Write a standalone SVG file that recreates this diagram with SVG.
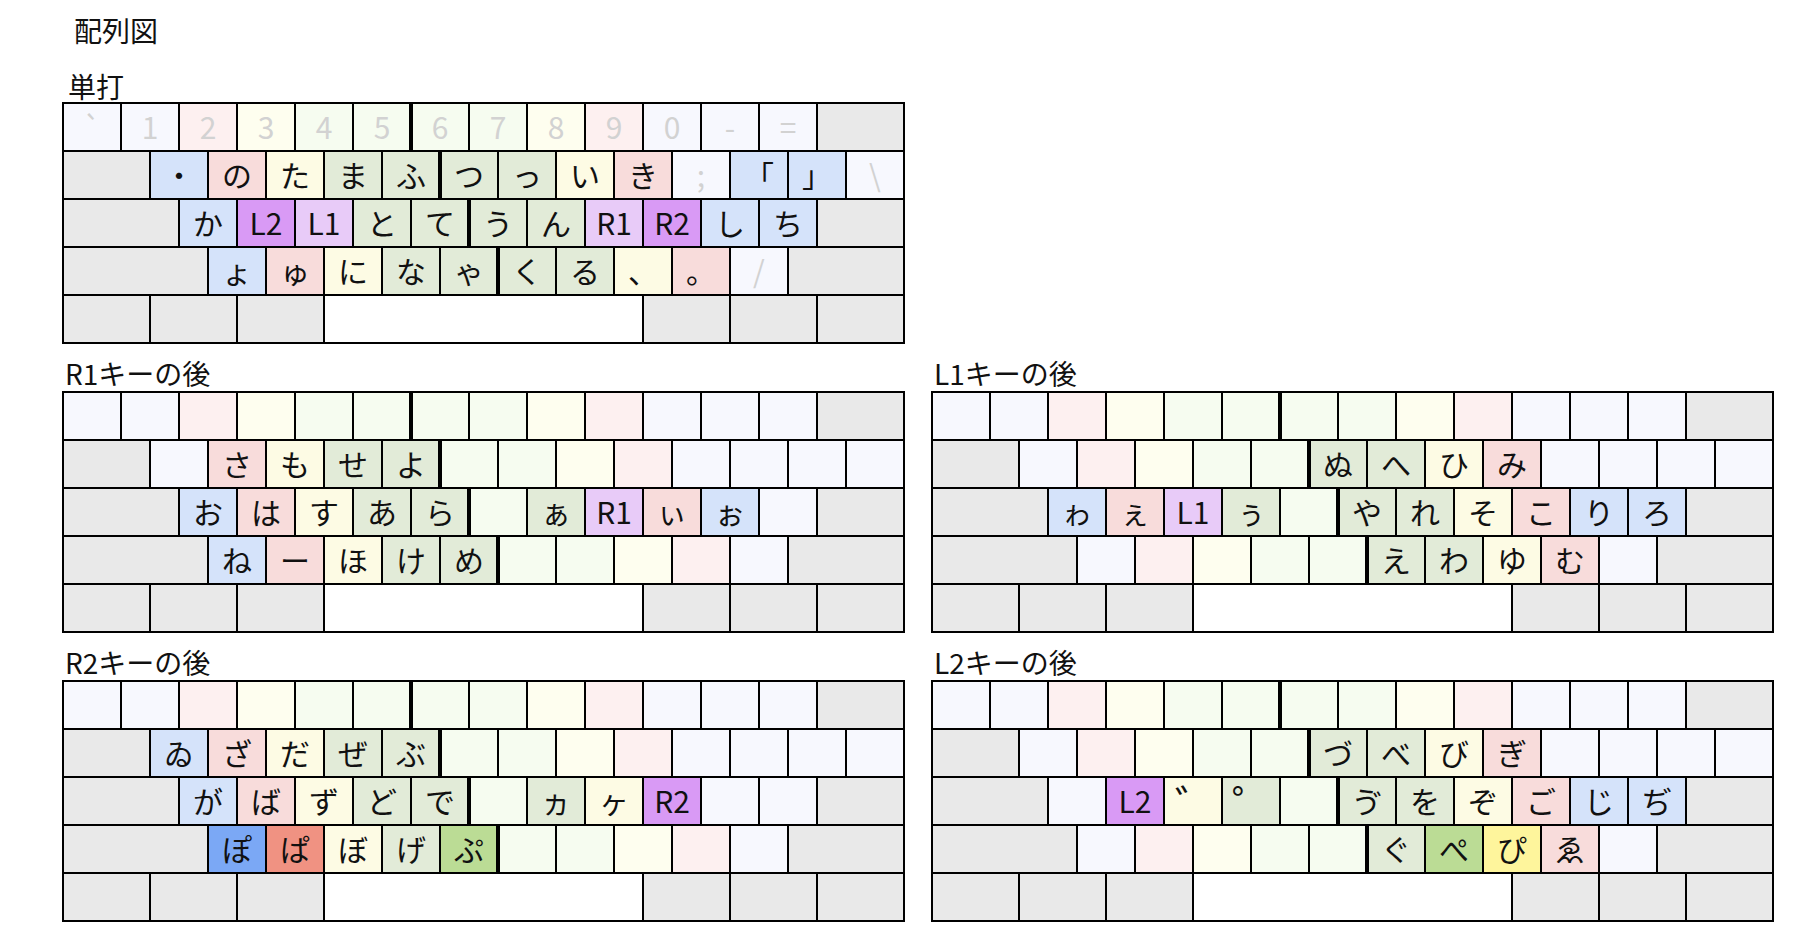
<svg xmlns="http://www.w3.org/2000/svg" xmlns:xlink="http://www.w3.org/1999/xlink" width="1800" height="938" viewBox="0 0 1800 938">
<style>
.k{stroke:#000;stroke-width:2}
.g{fill:#e9e9e9}.w{fill:#fff}
.fb{fill:#f7f8fe}.fp{fill:#fdf0f0}.fy{fill:#fefeef}.fg{fill:#f6fcf0}
.b{fill:#d5e3fa}.p{fill:#f8dcdb}.y{fill:#fdfbe4}.n{fill:#e2ebd8}
.l1{fill:#e8cbf8}.l2{fill:#d99af5}
.sb{fill:#7ba8f5}.sp{fill:#f09282}.sg{fill:#bbdc95}.sy{fill:#fef59c}
.sep{stroke:#000;stroke-width:4}
.t{font-family:"Noto Sans CJK JP","Noto Sans",sans-serif;font-size:30px;text-anchor:middle;dominant-baseline:central;fill:#111}
.m{font-family:"Noto Sans CJK JP","Noto Sans",sans-serif;font-size:30px;text-anchor:middle;dominant-baseline:central;fill:#d2d2d2}
.h{font-family:"Noto Sans CJK JP","Noto Sans",sans-serif;font-size:28px;fill:#111}
.dk{font-size:42px}
</style>
<defs>
<g id="base">
<rect class="k fb" x="0" y="0" width="58" height="48"/>
<rect class="k fb" x="58" y="0" width="58" height="48"/>
<rect class="k fp" x="116" y="0" width="58" height="48"/>
<rect class="k fy" x="174" y="0" width="58" height="48"/>
<rect class="k fg" x="232" y="0" width="58" height="48"/>
<rect class="k fg" x="290" y="0" width="58" height="48"/>
<rect class="k fg" x="348" y="0" width="58" height="48"/>
<rect class="k fg" x="406" y="0" width="58" height="48"/>
<rect class="k fy" x="464" y="0" width="58" height="48"/>
<rect class="k fp" x="522" y="0" width="58" height="48"/>
<rect class="k fb" x="580" y="0" width="58" height="48"/>
<rect class="k fb" x="638" y="0" width="58" height="48"/>
<rect class="k fb" x="696" y="0" width="58" height="48"/>
<rect class="k g" x="754" y="0" width="87" height="48"/>
<rect class="k g" x="0" y="48" width="87" height="48"/>
<rect class="k fb" x="87" y="48" width="58" height="48"/>
<rect class="k fp" x="145" y="48" width="58" height="48"/>
<rect class="k fy" x="203" y="48" width="58" height="48"/>
<rect class="k fg" x="261" y="48" width="58" height="48"/>
<rect class="k fg" x="319" y="48" width="58" height="48"/>
<rect class="k fg" x="377" y="48" width="58" height="48"/>
<rect class="k fg" x="435" y="48" width="58" height="48"/>
<rect class="k fy" x="493" y="48" width="58" height="48"/>
<rect class="k fp" x="551" y="48" width="58" height="48"/>
<rect class="k fb" x="609" y="48" width="58" height="48"/>
<rect class="k fb" x="667" y="48" width="58" height="48"/>
<rect class="k fb" x="725" y="48" width="58" height="48"/>
<rect class="k fb" x="783" y="48" width="58" height="48"/>
<rect class="k g" x="0" y="96" width="116" height="48"/>
<rect class="k fb" x="116" y="96" width="58" height="48"/>
<rect class="k fp" x="174" y="96" width="58" height="48"/>
<rect class="k fy" x="232" y="96" width="58" height="48"/>
<rect class="k fg" x="290" y="96" width="58" height="48"/>
<rect class="k fg" x="348" y="96" width="58" height="48"/>
<rect class="k fg" x="406" y="96" width="58" height="48"/>
<rect class="k fg" x="464" y="96" width="58" height="48"/>
<rect class="k fy" x="522" y="96" width="58" height="48"/>
<rect class="k fp" x="580" y="96" width="58" height="48"/>
<rect class="k fb" x="638" y="96" width="58" height="48"/>
<rect class="k fb" x="696" y="96" width="58" height="48"/>
<rect class="k g" x="754" y="96" width="87" height="48"/>
<rect class="k g" x="0" y="144" width="145" height="48"/>
<rect class="k fb" x="145" y="144" width="58" height="48"/>
<rect class="k fp" x="203" y="144" width="58" height="48"/>
<rect class="k fy" x="261" y="144" width="58" height="48"/>
<rect class="k fg" x="319" y="144" width="58" height="48"/>
<rect class="k fg" x="377" y="144" width="58" height="48"/>
<rect class="k fg" x="435" y="144" width="58" height="48"/>
<rect class="k fg" x="493" y="144" width="58" height="48"/>
<rect class="k fy" x="551" y="144" width="58" height="48"/>
<rect class="k fp" x="609" y="144" width="58" height="48"/>
<rect class="k fb" x="667" y="144" width="58" height="48"/>
<rect class="k g" x="725" y="144" width="116" height="48"/>
<rect class="k g" x="0" y="192" width="87" height="48"/>
<rect class="k g" x="87" y="192" width="87" height="48"/>
<rect class="k g" x="174" y="192" width="87" height="48"/>
<rect class="k w" x="261" y="192" width="319" height="48"/>
<rect class="k g" x="580" y="192" width="87" height="48"/>
<rect class="k g" x="667" y="192" width="87" height="48"/>
<rect class="k g" x="754" y="192" width="87" height="48"/>
</g>
<g id="seps">
<line class="sep" x1="348" y1="0" x2="348" y2="48"/>
<line class="sep" x1="377" y1="48" x2="377" y2="96"/>
<line class="sep" x1="406" y1="96" x2="406" y2="144"/>
<line class="sep" x1="435" y1="144" x2="435" y2="192"/>
</g>
</defs>

<g id="titles">
<text class="h" x="74" y="42">配列図</text>
<text class="h" x="68" y="98">単打</text>
<text class="h" x="65" y="385">R1キーの後</text>
<text class="h" x="934" y="385">L1キーの後</text>
<text class="h" x="65" y="674">R2キーの後</text>
<text class="h" x="934" y="674">L2キーの後</text>
</g>

<g id="panel-tanda" transform="translate(63,103)">
<use href="#base"/>
<g class="m">
<text x="29" y="23">`</text><text x="87" y="23">1</text><text x="145" y="23">2</text><text x="203" y="23">3</text><text x="261" y="23">4</text><text x="319" y="23">5</text><text x="377" y="23">6</text><text x="435" y="23">7</text><text x="493" y="23">8</text><text x="551" y="23">9</text><text x="609" y="23">0</text><text x="667" y="23">-</text><text x="725" y="23">=</text>
<text x="638" y="71">;</text><text x="812" y="71">\</text><text x="696" y="167">/</text>
</g>
<rect class="k b" x="87" y="48" width="58" height="48"/>
<rect class="k p" x="145" y="48" width="58" height="48"/>
<rect class="k y" x="203" y="48" width="58" height="48"/>
<rect class="k n" x="261" y="48" width="58" height="48"/>
<rect class="k n" x="319" y="48" width="58" height="48"/>
<rect class="k n" x="377" y="48" width="58" height="48"/>
<rect class="k n" x="435" y="48" width="58" height="48"/>
<rect class="k y" x="493" y="48" width="58" height="48"/>
<rect class="k p" x="551" y="48" width="58" height="48"/>
<rect class="k b" x="667" y="48" width="58" height="48"/>
<rect class="k b" x="725" y="48" width="58" height="48"/>
<rect class="k b" x="116" y="96" width="58" height="48"/>
<rect class="k l2" x="174" y="96" width="58" height="48"/>
<rect class="k l1" x="232" y="96" width="58" height="48"/>
<rect class="k n" x="290" y="96" width="58" height="48"/>
<rect class="k n" x="348" y="96" width="58" height="48"/>
<rect class="k n" x="406" y="96" width="58" height="48"/>
<rect class="k n" x="464" y="96" width="58" height="48"/>
<rect class="k l1" x="522" y="96" width="58" height="48"/>
<rect class="k l2" x="580" y="96" width="58" height="48"/>
<rect class="k b" x="638" y="96" width="58" height="48"/>
<rect class="k b" x="696" y="96" width="58" height="48"/>
<rect class="k b" x="145" y="144" width="58" height="48"/>
<rect class="k p" x="203" y="144" width="58" height="48"/>
<rect class="k y" x="261" y="144" width="58" height="48"/>
<rect class="k n" x="319" y="144" width="58" height="48"/>
<rect class="k n" x="377" y="144" width="58" height="48"/>
<rect class="k n" x="435" y="144" width="58" height="48"/>
<rect class="k n" x="493" y="144" width="58" height="48"/>
<rect class="k y" x="551" y="144" width="58" height="48"/>
<rect class="k p" x="609" y="144" width="58" height="48"/>
<use href="#seps"/>
<g class="t">
<text x="116" y="71">・</text><text x="174" y="71">の</text><text x="232" y="71">た</text><text x="290" y="71">ま</text><text x="348" y="71">ふ</text><text x="406" y="71">つ</text><text x="464" y="71">っ</text><text x="522" y="71">い</text><text x="580" y="71">き</text><text x="696" y="71">「</text><text x="754" y="71">」</text>
<text x="145" y="119">か</text><text x="203" y="119">L2</text><text x="261" y="119">L1</text><text x="319" y="119">と</text><text x="377" y="119">て</text><text x="435" y="119">う</text><text x="493" y="119">ん</text><text x="551" y="119">R1</text><text x="609" y="119">R2</text><text x="667" y="119">し</text><text x="725" y="119">ち</text>
<text x="174" y="167">ょ</text><text x="232" y="167">ゅ</text><text x="290" y="167">に</text><text x="348" y="167">な</text><text x="406" y="167">ゃ</text><text x="464" y="167">く</text><text x="522" y="167">る</text><text x="580" y="167">、</text><text x="638" y="167">。</text>
</g>
</g>

<g id="panel-r1" transform="translate(63,392)">
<use href="#base"/>
<rect class="k p" x="145" y="48" width="58" height="48"/>
<rect class="k y" x="203" y="48" width="58" height="48"/>
<rect class="k n" x="261" y="48" width="58" height="48"/>
<rect class="k n" x="319" y="48" width="58" height="48"/>
<rect class="k b" x="116" y="96" width="58" height="48"/>
<rect class="k p" x="174" y="96" width="58" height="48"/>
<rect class="k y" x="232" y="96" width="58" height="48"/>
<rect class="k n" x="290" y="96" width="58" height="48"/>
<rect class="k n" x="348" y="96" width="58" height="48"/>
<rect class="k n" x="464" y="96" width="58" height="48"/>
<rect class="k l1" x="522" y="96" width="58" height="48"/>
<rect class="k p" x="580" y="96" width="58" height="48"/>
<rect class="k b" x="638" y="96" width="58" height="48"/>
<rect class="k b" x="145" y="144" width="58" height="48"/>
<rect class="k p" x="203" y="144" width="58" height="48"/>
<rect class="k y" x="261" y="144" width="58" height="48"/>
<rect class="k n" x="319" y="144" width="58" height="48"/>
<rect class="k n" x="377" y="144" width="58" height="48"/>
<use href="#seps"/>
<g class="t">
<text x="174" y="71">さ</text><text x="232" y="71">も</text><text x="290" y="71">せ</text><text x="348" y="71">よ</text>
<text x="145" y="119">お</text><text x="203" y="119">は</text><text x="261" y="119">す</text><text x="319" y="119">あ</text><text x="377" y="119">ら</text><text x="493" y="119">ぁ</text><text x="551" y="119">R1</text><text x="609" y="119">ぃ</text><text x="667" y="119">ぉ</text>
<text x="174" y="167">ね</text><text x="232" y="167">ー</text><text x="290" y="167">ほ</text><text x="348" y="167">け</text><text x="406" y="167">め</text>
</g>
</g>

<g id="panel-l1" transform="translate(932,392)">
<use href="#base"/>
<rect class="k n" x="377" y="48" width="58" height="48"/>
<rect class="k n" x="435" y="48" width="58" height="48"/>
<rect class="k y" x="493" y="48" width="58" height="48"/>
<rect class="k p" x="551" y="48" width="58" height="48"/>
<rect class="k b" x="116" y="96" width="58" height="48"/>
<rect class="k p" x="174" y="96" width="58" height="48"/>
<rect class="k l1" x="232" y="96" width="58" height="48"/>
<rect class="k n" x="290" y="96" width="58" height="48"/>
<rect class="k n" x="406" y="96" width="58" height="48"/>
<rect class="k n" x="464" y="96" width="58" height="48"/>
<rect class="k y" x="522" y="96" width="58" height="48"/>
<rect class="k p" x="580" y="96" width="58" height="48"/>
<rect class="k b" x="638" y="96" width="58" height="48"/>
<rect class="k b" x="696" y="96" width="58" height="48"/>
<rect class="k n" x="435" y="144" width="58" height="48"/>
<rect class="k n" x="493" y="144" width="58" height="48"/>
<rect class="k y" x="551" y="144" width="58" height="48"/>
<rect class="k p" x="609" y="144" width="58" height="48"/>
<use href="#seps"/>
<g class="t">
<text x="406" y="71">ぬ</text><text x="464" y="71">へ</text><text x="522" y="71">ひ</text><text x="580" y="71">み</text>
<text x="145" y="119">ゎ</text><text x="203" y="119">ぇ</text><text x="261" y="119">L1</text><text x="319" y="119">ぅ</text><text x="435" y="119">や</text><text x="493" y="119">れ</text><text x="551" y="119">そ</text><text x="609" y="119">こ</text><text x="667" y="119">り</text><text x="725" y="119">ろ</text>
<text x="464" y="167">え</text><text x="522" y="167">わ</text><text x="580" y="167">ゆ</text><text x="638" y="167">む</text>
</g>
</g>

<g id="panel-r2" transform="translate(63,681)">
<use href="#base"/>
<rect class="k b" x="87" y="48" width="58" height="48"/>
<rect class="k p" x="145" y="48" width="58" height="48"/>
<rect class="k y" x="203" y="48" width="58" height="48"/>
<rect class="k n" x="261" y="48" width="58" height="48"/>
<rect class="k n" x="319" y="48" width="58" height="48"/>
<rect class="k b" x="116" y="96" width="58" height="48"/>
<rect class="k p" x="174" y="96" width="58" height="48"/>
<rect class="k y" x="232" y="96" width="58" height="48"/>
<rect class="k n" x="290" y="96" width="58" height="48"/>
<rect class="k n" x="348" y="96" width="58" height="48"/>
<rect class="k n" x="464" y="96" width="58" height="48"/>
<rect class="k y" x="522" y="96" width="58" height="48"/>
<rect class="k l2" x="580" y="96" width="58" height="48"/>
<rect class="k sb" x="145" y="144" width="58" height="48"/>
<rect class="k sp" x="203" y="144" width="58" height="48"/>
<rect class="k y" x="261" y="144" width="58" height="48"/>
<rect class="k n" x="319" y="144" width="58" height="48"/>
<rect class="k sg" x="377" y="144" width="58" height="48"/>
<use href="#seps"/>
<g class="t">
<text x="116" y="71">ゐ</text><text x="174" y="71">ざ</text><text x="232" y="71">だ</text><text x="290" y="71">ぜ</text><text x="348" y="71">ぶ</text>
<text x="145" y="119">が</text><text x="203" y="119">ば</text><text x="261" y="119">ず</text><text x="319" y="119">ど</text><text x="377" y="119">で</text><text x="493" y="119">ヵ</text><text x="551" y="119">ヶ</text><text x="609" y="119">R2</text>
<text x="174" y="167">ぽ</text><text x="232" y="167">ぱ</text><text x="290" y="167">ぼ</text><text x="348" y="167">げ</text><text x="406" y="167">ぷ</text>
</g>
</g>

<g id="panel-l2" transform="translate(932,681)">
<use href="#base"/>
<rect class="k n" x="377" y="48" width="58" height="48"/>
<rect class="k n" x="435" y="48" width="58" height="48"/>
<rect class="k y" x="493" y="48" width="58" height="48"/>
<rect class="k p" x="551" y="48" width="58" height="48"/>
<rect class="k l2" x="174" y="96" width="58" height="48"/>
<rect class="k y" x="232" y="96" width="58" height="48"/>
<rect class="k n" x="290" y="96" width="58" height="48"/>
<rect class="k n" x="406" y="96" width="58" height="48"/>
<rect class="k n" x="464" y="96" width="58" height="48"/>
<rect class="k y" x="522" y="96" width="58" height="48"/>
<rect class="k p" x="580" y="96" width="58" height="48"/>
<rect class="k b" x="638" y="96" width="58" height="48"/>
<rect class="k b" x="696" y="96" width="58" height="48"/>
<rect class="k n" x="435" y="144" width="58" height="48"/>
<rect class="k sg" x="493" y="144" width="58" height="48"/>
<rect class="k sy" x="551" y="144" width="58" height="48"/>
<rect class="k p" x="609" y="144" width="58" height="48"/>
<use href="#seps"/>
<g class="t">
<text x="406" y="71">づ</text><text x="464" y="71">べ</text><text x="522" y="71">び</text><text x="580" y="71">ぎ</text>
<text x="203" y="119">L2</text><text class="dk" x="264" y="121">゛</text><text class="dk" x="321" y="121">゜</text><text x="435" y="119">ゔ</text><text x="493" y="119">を</text><text x="551" y="119">ぞ</text><text x="609" y="119">ご</text><text x="667" y="119">じ</text><text x="725" y="119">ぢ</text>
<text x="464" y="167">ぐ</text><text x="522" y="167">ぺ</text><text x="580" y="167">ぴ</text><text x="638" y="167">ゑ</text>
</g>
</g>
</svg>
